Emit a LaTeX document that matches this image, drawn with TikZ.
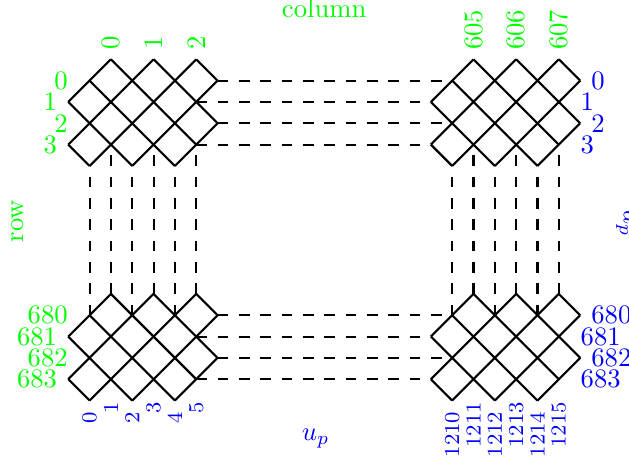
\documentclass[tikz,border=0pt]{standalone}
\usepackage{tikz}
\definecolor{cg}{RGB}{0, 255, 0}
\definecolor{cb}{RGB}{0, 0, 255}
\tikzset{
  pics/block/.style={code={
    \draw [mesh] (0,-2) -- (2,0) (0,-4) -- (4,0) (1,-5) -- (6,0) (3,-5) -- (7,-1) (5,-5) -- (7,-3);
    \draw [mesh] (0,-4) -- (1,-5) (0,-2) -- (3,-5) (1,-1) -- (5,-5) (2,0) -- (6,-4) (4,0) -- (7,-3) (6,0) -- (7,-1);
    \foreach \i/\x/\y in {0/1/-1, 1/0/-2, 2/1/-3, 3/0/-4} \coordinate (-l\i) at (\x,\y);
    \foreach \i/\x/\y in {0/7/-1, 1/6/-2, 2/7/-3, 3/6/-4} \coordinate (-r\i) at (\x,\y);
    \foreach \i/\x/\y in {0/1/-1, 1/2/0, 2/3/-1, 3/4/0, 4/5/-1, 5/6/0} \coordinate (-t\i) at (\x,\y);
    \foreach \i/\x/\y in {0/1/-5, 1/2/-4, 2/3/-5, 3/4/-4, 4/5/-5, 5/6/-4} \coordinate (-b\i) at (\x,\y);
  }}
}

\begin{document}
\begin{tikzpicture}[x=8pt, y=8pt,
  mesh/.style={line width=0.8pt, color=black},
  link/.style={line width=0.8pt, color=black, dash pattern=on 4pt off 4pt},
  toplbl/.style={rotate=90, anchor=west},
  botlbl/.style={rotate=90, anchor=east, inner sep=0pt, text=cb, font=\footnotesize}]
\useasboundingbox (-3.2,2.78) rectangle (26.29,-18.83);
\pic (tl) at (0,0) {block};
\pic (tr) at (17,0) {block};
\pic (bl) at (0,-11) {block};
\pic (br) at (17,-11) {block};
% dashed links between the blocks
\foreach \i in {0,...,3} {
  \draw [link] (tl-r\i) -- (tr-l\i);
  \draw [link] (bl-r\i) -- (br-l\i);
}
\foreach \i in {0,...,5} {
  \draw [link] (bl-t\i) -- (tl-b\i);
  \draw [link] (br-t\i) -- (tr-b\i);
}
% column labels
\node (colname) [text=cg, anchor=base] at (12,1.98) {column};
\node (c0) [toplbl, text=cg] at (tl-t1) {0};
\node (c1) [toplbl, text=cg] at (tl-t3) {1};
\node (c2) [toplbl, text=cg] at (tl-t5) {2};
\node (c605) [toplbl, text=cg] at (tr-t1) {605};
\node (c606) [toplbl, text=cg] at (tr-t3) {606};
\node (c607) [toplbl, text=cg] at (tr-t5) {607};
% row labels
\node (rowname) [text=cg, rotate=90, anchor=base] at (-2.1,-7.58) {row};
\foreach \i/\x in {0/0, 1/-0.5, 2/0, 3/-0.5} {
  \node (lr\i) [text=cg, anchor=east, inner sep=0pt] at (\x,-1-\i) {\i};
  \node (rr\i) [text=cb, anchor=west, inner sep=0pt] at (\x+24.5,-1-\i) {\i};
}
\foreach \i/\x in {0/0, 1/-0.5, 2/0, 3/-0.5} {
  \node (lr68\i) [text=cg, anchor=east, inner sep=0pt] at (\x,-12-\i) {68\i};
  \node (rr68\i) [text=cb, anchor=west, inner sep=0pt] at (\x+24.5,-12-\i) {68\i};
}
% bottom labels
\foreach \i/\y in {0/-16.5, 1/-16.05, 2/-16.5, 3/-16.05, 4/-16.5, 5/-16.05} {
  \node (bc\i) [botlbl] at (1+\i,\y) {\i};
  \node (bc121\i) [botlbl] at (18+\i,\y) {121\i};
}
\node (up) [text=cb, anchor=base] at (11.6,-17.85) {$u_p$};
\node (dp) [text=cb, rotate=-90, anchor=base] at (26.05,-7.7) {$d_p$};
\end{tikzpicture}
\end{document}
